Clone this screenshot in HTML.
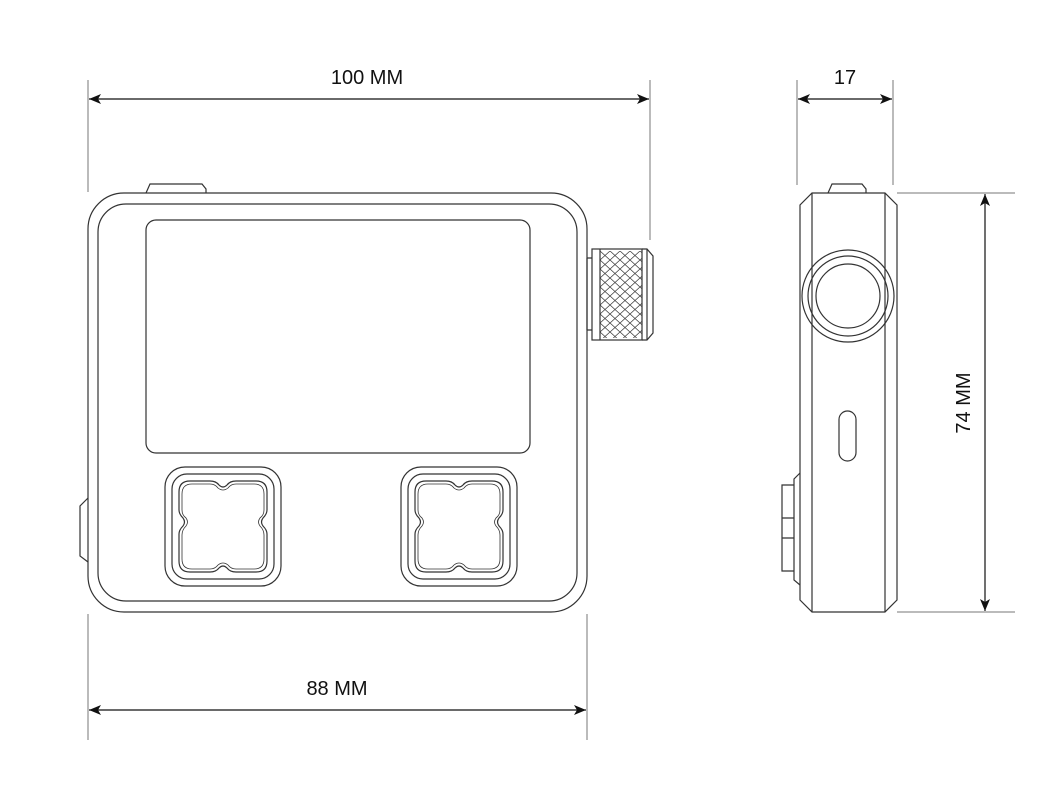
<!DOCTYPE html>
<html><head><meta charset="utf-8"><style>
html,body{margin:0;padding:0;background:#fff;}
svg{display:block;}
text{font-family:"Liberation Sans",sans-serif;font-size:20px;fill:#111;}
</style></head><body>
<svg width="1058" height="792" viewBox="0 0 1058 792" xmlns="http://www.w3.org/2000/svg">
<defs>
<pattern id="kn" width="10" height="9" patternUnits="userSpaceOnUse" x="600" y="251">
<path d="M0 0L10 9M10 0L0 9" stroke="#444" stroke-width="0.8"/>
</pattern>
<marker id="ar" viewBox="0 0 12 10" refX="12" refY="5" markerWidth="12" markerHeight="10" orient="auto-start-reverse" markerUnits="userSpaceOnUse">
<path d="M0 0L12 5L0 10L3 5Z" fill="#111"/>
</marker>
</defs>
<g fill="none" stroke="#333" stroke-width="1.2">
<g stroke="#777" stroke-width="1">
<line x1="88" y1="80" x2="88" y2="192"/>
<line x1="650" y1="80" x2="650" y2="240"/>
<line x1="88" y1="614" x2="88" y2="740"/>
<line x1="587" y1="614" x2="587" y2="740"/>
<line x1="797" y1="80" x2="797" y2="185"/>
<line x1="893" y1="80" x2="893" y2="185"/>
<line x1="897" y1="193" x2="1015" y2="193"/>
<line x1="897" y1="612" x2="1015" y2="612"/>
</g>
<g stroke="#111" stroke-width="1.2">
<line x1="89" y1="99" x2="649" y2="99" marker-start="url(#ar)" marker-end="url(#ar)"/>
<line x1="89" y1="710" x2="586" y2="710" marker-start="url(#ar)" marker-end="url(#ar)"/>
<line x1="798" y1="99" x2="892" y2="99" marker-start="url(#ar)" marker-end="url(#ar)"/>
<line x1="985" y1="194" x2="985" y2="611" marker-start="url(#ar)" marker-end="url(#ar)"/>
</g>
<path d="M146 193L150 184H202L206 189V193"/>
<path d="M88 498L80 506V556L88 562"/>
<rect x="88" y="193" width="499" height="419" rx="36"/>
<rect x="98" y="204" width="479" height="397" rx="28"/>
<rect x="146" y="220" width="384" height="233" rx="10"/>
<path d="M587 258H592M587 330H592"/>
<line x1="587" y1="258" x2="587" y2="330"/>
<rect x="600" y="251" width="42" height="87" fill="url(#kn)" stroke="none"/>
<rect x="592" y="249" width="50" height="91"/>
<line x1="600" y1="249" x2="600" y2="340"/>
<path d="M642 249H647L653 256V333L647 340H642"/>
<line x1="647" y1="249" x2="647" y2="340"/>
<g id="btn">
<rect x="165" y="467" width="116" height="119" rx="20"/>
<rect x="172" y="474" width="102" height="105" rx="15"/>
<path d="M190 481H210Q216 481 219 485Q223 489 227 485Q230 481 236 481H256Q267 481 267 492V510Q267 514 263 518Q260 522 263 526Q267 530 267 534V561Q267 572 256 572H236Q230 572 227 568Q223 564 219 568Q216 572 210 572H190Q179 572 179 561V534Q179 530 183 526Q186 522 183 518Q179 514 179 510V492Q179 481 190 481Z"/>
<path d="M192 484H210Q215 484 218 488Q223 492 228 488Q231 484 236 484H254Q264 484 264 494V510Q264 515 260 518Q257 522 260 526Q264 530 264 535V559Q264 569 254 569H236Q231 569 228 565Q223 561 218 565Q215 569 210 569H192Q182 569 182 559V535Q182 530 186 526Q189 522 186 518Q182 515 182 510V494Q182 484 192 484Z" stroke-width="0.8"/>
</g>
<use href="#btn" x="236"/>
<path d="M828 193L832 184H862L866 189V193"/>
<path d="M812 193H885L897 205V600L885 612H812L800 600V205Z"/>
<line x1="812" y1="193" x2="812" y2="612"/>
<line x1="885" y1="193" x2="885" y2="612"/>
<circle cx="848" cy="296" r="46"/>
<circle cx="848" cy="296" r="40"/>
<circle cx="848" cy="296" r="32"/>
<rect x="839" y="411" width="17" height="50" rx="8.5"/>
<path d="M800 473L794 479V580L800 585"/>
<path d="M794 485H782V571H794M782 518H794M782 538H794"/>
</g>
<text x="367" y="84" text-anchor="middle">100 MM</text>
<text x="337" y="695" text-anchor="middle">88 MM</text>
<text x="845" y="84" text-anchor="middle">17</text>
<text transform="translate(970,403) rotate(-90)" text-anchor="middle">74 MM</text>
</svg>
</body></html>
